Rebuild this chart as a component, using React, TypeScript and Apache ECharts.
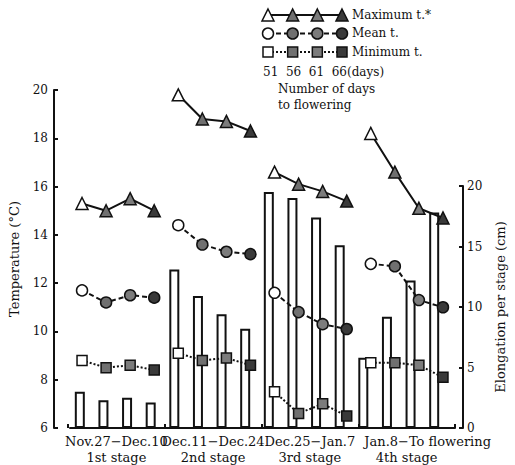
import React, { useEffect, useRef } from 'react';
import * as echarts from 'echarts';

const periods = ['Nov.27−Dec.10', 'Dec.11−Dec.24', 'Dec.25−Jan.7', 'Jan.8−To flowering'];
const stages = ['1st stage', '2nd stage', '3rd stage', '4th stage'];
const legendDays = [51, 56, 61, 66];
const legendNames = ['Maximum t.*', 'Mean t.', 'Minimum t.'];

// 16 points: 4 stages x 4 flowering groups (51, 56, 61, 66 days)
const maxTemp = [15.3, 15.0, 15.5, 15.0, 19.8, 18.8, 18.7, 18.3, 16.6, 16.1, 15.8, 15.4, 18.2, 16.6, 15.1, 14.7];
const meanTemp = [11.7, 11.2, 11.5, 11.4, 14.4, 13.6, 13.3, 13.2, 11.6, 10.8, 10.3, 10.1, 12.8, 12.7, 11.3, 11.0];
const minTemp = [8.8, 8.5, 8.6, 8.4, 9.1, 8.8, 8.9, 8.6, 7.5, 6.6, 7.0, 6.5, 8.7, 8.7, 8.6, 8.1];
const elongation = [3.0, 2.3, 2.5, 2.1, 13.1, 10.9, 9.4, 8.2, 19.5, 19.0, 17.4, 15.1, 5.8, 9.2, 12.2, 17.8];

const categories = stages.flatMap((s) => legendDays.map((d) => `${s} ${d}`));

const FONT = '"DejaVu Serif", serif';
const INK = '#111';
const fills = ['#ffffff', '#707070', '#7c7c7c', '#3a3a3a'];

const kinds = [
  { data: maxTemp, symbol: 'triangle', size: 12, dash: 'solid' as any },
  { data: meanTemp, symbol: 'circle', size: 11, dash: [5, 3] as any },
  { data: minTemp, symbol: 'rect', size: 10, dash: [2, 2] as any },
];

function lineStyleFor(k: any) {
  return {
    symbol: k.symbol,
    symbolSize: k.size,
    showSymbol: true,
    lineStyle: { color: INK, width: 2, type: k.dash },
    itemStyle: { color: '#fff', borderColor: INK, borderWidth: 1.5 },
  };
}

export default function App() {
  const ref = useRef<HTMLDivElement>(null);
  useEffect(() => {
    document.body.style.margin = '0';
    const chart = echarts.init(ref.current!, undefined, { renderer: 'svg' });

    const series: any[] = [];
    series.push({
      type: 'bar',
      xAxisIndex: 1,
      yAxisIndex: 1,
      data: elongation,
      barWidth: 10,
      itemStyle: { color: '#fff', borderColor: INK, borderWidth: 2 },
      z: 2,
      silent: true,
    });
    for (let g = 0; g < 4; g++) {
      kinds.forEach((k) => {
        series.push({
          type: 'line',
          xAxisIndex: 0,
          yAxisIndex: 0,
          z: 5,
          silent: true,
          ...lineStyleFor(k),
          data: k.data.map((v, i) =>
            Math.floor(i / 4) === g ? { value: v, itemStyle: { color: fills[i % 4] } } : '-'
          ),
        });
      });
    }
    kinds.forEach((k, row) => {
      series.push({
        type: 'line',
        xAxisIndex: 3,
        yAxisIndex: 3,
        z: 5,
        silent: true,
        ...lineStyleFor(k),
        data: legendDays.map((d, i) => ({ value: [d, row], itemStyle: { color: fills[i] } })),
      });
    });

    const txt = (text: string, x: number, y: number) => ({
      type: 'text',
      x,
      y,
      style: { text, font: `12px ${FONT}`, fill: INK, verticalAlign: 'middle' },
    });

    chart.setOption({
      animation: false,
      backgroundColor: '#fff',
      grid: [
        { left: 68, right: 60, top: 90, bottom: 37 },
        { left: 68, right: 60, top: 186, bottom: 37 },
        { left: 68, right: 60, top: 90, bottom: 37 },
        { left: 268, width: 74, top: 15, height: 37 },
      ],
      xAxis: [
        {
          gridIndex: 0,
          type: 'category',
          data: categories,
          boundaryGap: true,
          axisLine: { lineStyle: { color: INK, width: 2 } },
          axisTick: { show: false },
          axisLabel: { show: false },
        },
        { gridIndex: 1, type: 'category', data: categories, show: false },
        {
          gridIndex: 2,
          type: 'category',
          data: periods,
          axisLine: { show: false },
          axisTick: { show: true, inside: true, length: 4, interval: 0, lineStyle: { color: INK, width: 2 } },
          axisLabel: {
            interval: 0,
            margin: 5,
            color: INK,
            fontFamily: FONT,
            fontSize: 13,
            lineHeight: 16,
            rich: { sp: { width: 42 } },
            formatter: (v: string, i: number) =>
              v.length > 14 ? `{sp|}${v}\n${stages[i]}` : `${v}\n${stages[i]}`,
          },
        },
        { gridIndex: 3, type: 'value', min: 51, max: 66, show: false },
      ],
      yAxis: [
        {
          gridIndex: 0,
          type: 'value',
          min: 6,
          max: 20,
          interval: 2,
          position: 'left',
          offset: 16,
          splitLine: { show: false },
          axisLine: { show: true, lineStyle: { color: INK, width: 2 } },
          axisTick: { show: true, inside: true, length: 4, lineStyle: { color: INK, width: 2 } },
          axisLabel: { color: INK, fontFamily: FONT, fontSize: 12, margin: 6 },
          name: 'Temperature (°C)',
          nameLocation: 'middle',
          nameGap: 33,
          nameTextStyle: { color: INK, fontFamily: FONT, fontSize: 13 },
        },
        {
          gridIndex: 1,
          type: 'value',
          min: 0,
          max: 20,
          interval: 5,
          position: 'right',
          offset: 17,
          splitLine: { show: false },
          axisLine: { show: true, lineStyle: { color: INK, width: 2 } },
          axisTick: { show: true, inside: true, length: 4, lineStyle: { color: INK, width: 2 } },
          axisLabel: { color: INK, fontFamily: FONT, fontSize: 12, margin: 4 },
          name: 'Elongation per stage (cm)',
          nameLocation: 'middle',
          nameGap: 31,
          nameTextStyle: { color: INK, fontFamily: FONT, fontSize: 13 },
        },
        { gridIndex: 2, type: 'value', show: false },
        { gridIndex: 3, type: 'value', min: 0, max: 2, inverse: true, show: false },
      ],
      graphic: [
        txt(legendNames[0], 352, 15),
        txt(legendNames[1], 352, 33),
        txt(legendNames[2], 352, 52),
        txt(`${legendDays.join('  ')}(days)`, 263, 72),
        txt('Number of days', 278, 89),
        txt('to flowering', 278, 105),
      ],
      series,
    });
    return () => chart.dispose();
  }, []);
  return <div ref={ref} style={{ width: 515, height: 465 }} />;
}
